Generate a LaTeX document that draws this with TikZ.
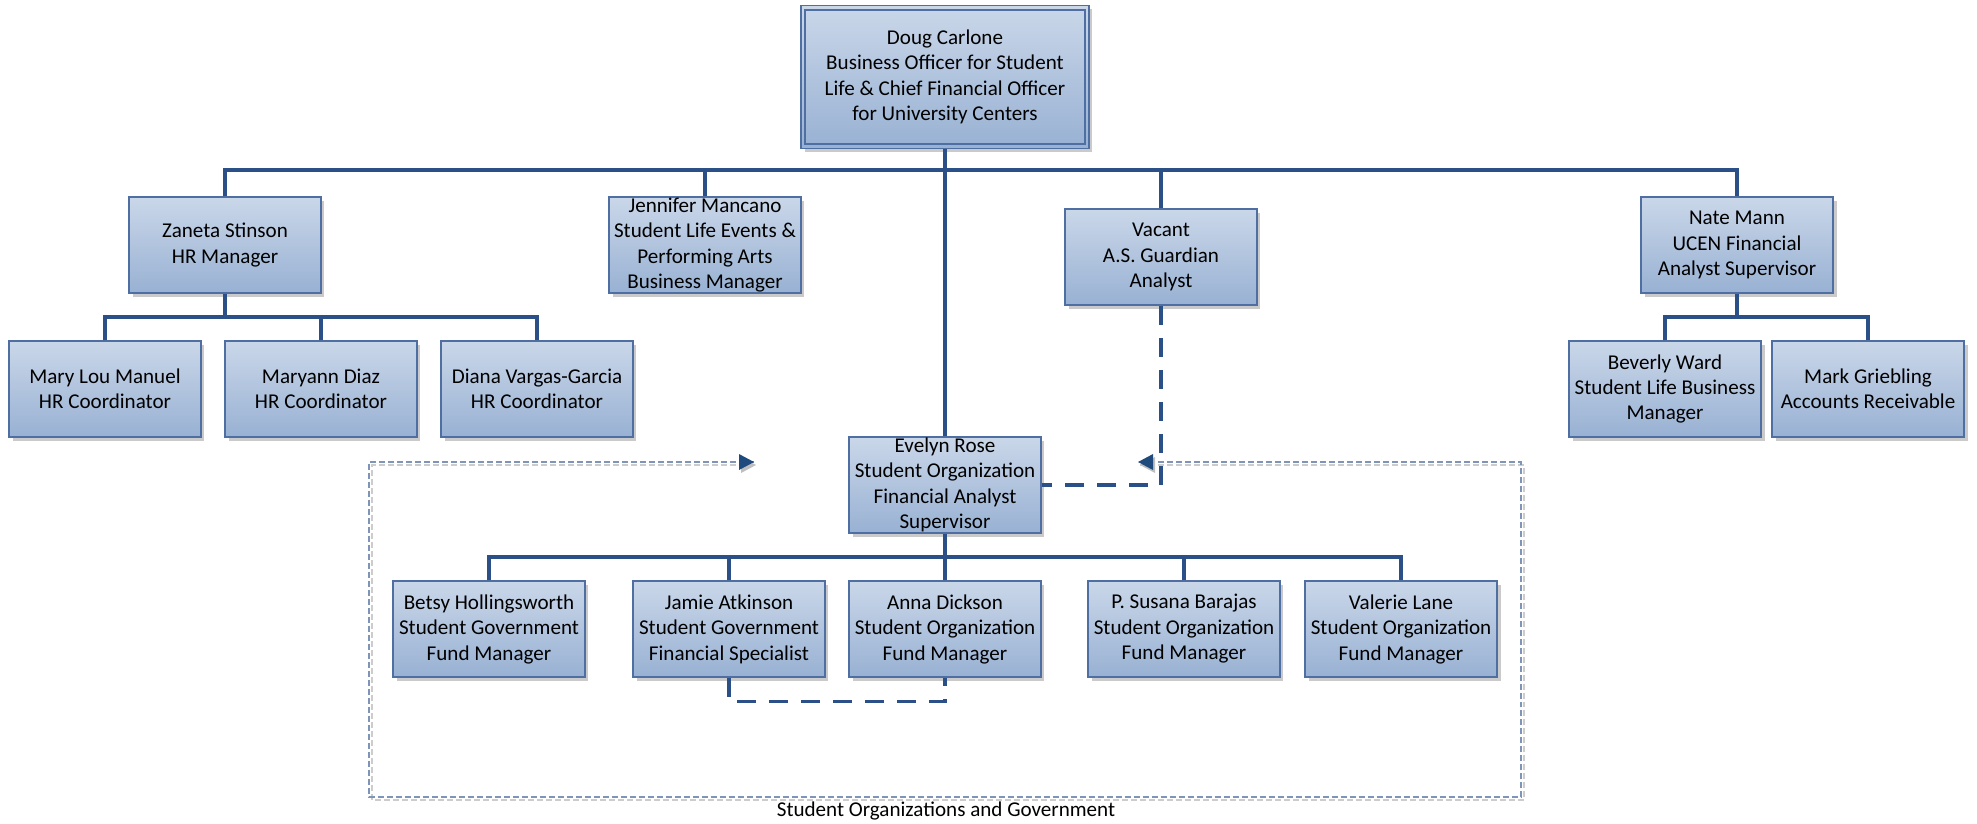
\documentclass[tikz,border=0pt]{standalone}
\usepackage{fontspec}
\setmainfont{Carlito}
\usetikzlibrary{shadows,arrows.meta,calc}
\definecolor{boxtop}{HTML}{CAD7E9}
\definecolor{boxbot}{HTML}{98B1D3}
\definecolor{boxborder}{HTML}{4F6FA3}
\definecolor{connc}{HTML}{2A5087}
\definecolor{arrowc}{HTML}{1F4A7E}
\definecolor{grpc}{HTML}{7E95B8}
\begin{document}
\begin{tikzpicture}[x=0.02cm,y=-0.02cm,
  person/.style={rectangle, draw=boxborder, line width=0.9pt,
    top color=boxtop, bottom color=boxbot,
    minimum width=3.84cm, minimum height=1.92cm, inner sep=0pt,
    align=center, font=\fontsize{12}{14.5}\selectfont,
    drop shadow={shadow xshift=0.07cm, shadow yshift=-0.07cm, opacity=0.35, fill=black!60}},
  conn/.style={draw=connc, line width=1.8pt},
  dconn/.style={draw=connc, line width=1.8pt, dash pattern=on 0.38cm off 0.26cm},
  grp/.style={draw=grpc, line width=0.9pt, dash pattern=on 0.12cm off 0.06cm},
  grpshadow/.style={draw=black!20, line width=1.6pt, dash pattern=on 0.12cm off 0.06cm},
  lbl/.style={font=\fontsize{12}{14.5}\selectfont}
]
\useasboundingbox (0,0) rectangle (1977,823);

% group frame
\coordinate (al) at (754,462);
\coordinate (ar) at (1138,462);
\coordinate (gtl) at (369,462);
\coordinate (gbl) at (369,797);
\coordinate (gbr) at (1521,797);
\coordinate (gtr) at (1521,462);
\draw[grpshadow] ($(al)+(0,3)$) -- ($(gtl)+(3,3)$) -- ($(gbl)+(3,3)$) -- ($(gbr)+(3,3)$) -- ($(gtr)+(3,3)$) -- ($(ar)+(0,3)$);
\draw[grp] (al) -- (gtl) -- (gbl) -- (gbr) -- (gtr) -- (ar);
\fill[black!25] ($(al)+(2,3)$) -- ++(-15,-8) -- ++(0,16) -- cycle;
\fill[black!25] ($(ar)+(2,3)$) -- ++(15,-8) -- ++(0,16) -- cycle;
\fill[arrowc] (al) -- ++(-15,-8) -- ++(0,16) -- cycle;
\fill[arrowc] (ar) -- ++(15,-8) -- ++(0,16) -- cycle;
\node[lbl] (glabel) at (946,811) {Student Organizations and Government};

% bus levels
\coordinate (b1) at (0,170);
\coordinate (b2) at (0,317);
\coordinate (b3) at (0,557);

% nodes
\node[person, minimum width=5.76cm, minimum height=2.86cm] (doug) at (945,77)
  {Doug Carlone\\Business Officer for Student\\Life \& Chief Financial Officer\\for University Centers};
\draw[boxborder, line width=0.9pt] ($(doug.north west)+(5,5)$) rectangle ($(doug.south east)+(-5,-5)$);

\node[person] (zaneta) at (225,245) {Zaneta Stinson\\HR Manager};
\node[person] (jennifer) at (705,245) {Jennifer Mancano\\Student Life Events \&\\Performing Arts\\Business Manager};
\node[person] (vacant) at (1161,257) {Vacant\\A.S. Guardian\\Analyst};
\node[person] (nate) at (1737,245) {Nate Mann\\UCEN Financial\\Analyst Supervisor};

\node[person] (marylou) at (105,389) {Mary Lou Manuel\\HR Coordinator};
\node[person] (maryann) at (321,389) {Maryann Diaz\\HR Coordinator};
\node[person] (diana) at (537,389) {Diana Vargas-Garcia\\HR Coordinator};

\node[person] (beverly) at (1665,389) {Beverly Ward\\Student Life Business\\Manager};
\node[person] (mark) at (1868,389) {Mark Griebling\\Accounts Receivable};

\node[person] (evelyn) at (945,485) {Evelyn Rose\\Student Organization\\Financial Analyst\\Supervisor};

\node[person] (betsy) at (489,629) {Betsy Hollingsworth\\Student Government\\Fund Manager};
\node[person] (jamie) at (729,629) {Jamie Atkinson\\Student Government\\Financial Specialist};
\node[person] (anna) at (945,629) {Anna Dickson\\Student Organization\\Fund Manager};
\node[person] (susana) at (1184,629) {P. Susana Barajas\\Student Organization\\Fund Manager};
\node[person] (valerie) at (1401,629) {Valerie Lane\\Student Organization\\Fund Manager};

% connectors
\draw[conn] (zaneta.north) |- (nate.north |- b1) -- (nate.north);
\draw[conn] (jennifer.north) -- (jennifer.north |- b1);
\draw[conn] (vacant.north) -- (vacant.north |- b1);
\draw[conn] (doug.south) -- (evelyn.north);

\draw[conn] (zaneta.south) -- (zaneta.south |- b2);
\draw[conn] (marylou.north) |- (diana.north |- b2) -- (diana.north);
\draw[conn] (maryann.north) -- (maryann.north |- b2);

\draw[conn] (nate.south) -- (nate.south |- b2);
\draw[conn] (beverly.north) |- (mark.north |- b2) -- (mark.north);

\draw[conn] (evelyn.south) -- (anna.north);
\draw[conn] (betsy.north) |- (valerie.north |- b3) -- (valerie.north);
\draw[conn] (jamie.north) -- (jamie.north |- b3);
\draw[conn] (susana.north) -- (susana.north |- b3);

\draw[dconn] (vacant.south) |- (evelyn.east);
\draw[dconn] (jamie.south) -- ++(0,24) -| (anna.south);
\end{tikzpicture}
\end{document}
